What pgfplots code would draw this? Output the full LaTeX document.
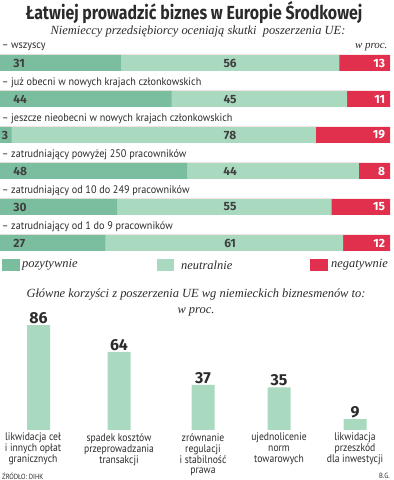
\documentclass[border=0pt]{standalone}
\usepackage{pgfplots}
\pgfplotsset{compat=1.18}
\usepackage{fontspec}
\setmainfont{PT Sans}
\newfontfamily\titlefont[FakeStretch=0.84]{Fira Sans}
\newfontfamily\condfont[FakeStretch=0.88]{PT Sans}
\newfontfamily\rowfont[FakeStretch=0.93]{PT Sans}
\newfontfamily\serifit{Liberation Serif}
\newfontfamily\numfont{Fira Sans}
\definecolor{cpos}{HTML}{7BBE9F}
\definecolor{cneu}{HTML}{A9DABF}
\definecolor{cneg}{HTML}{E0304E}
\definecolor{ctxt}{HTML}{2B2B2B}
\tikzset{
  rowlab/.style={anchor=west, font=\rowfont\fontsize{11}{12}\selectfont, text=ctxt, inner sep=0pt},
  val/.style={font=\numfont\bfseries\fontsize{12}{13}\selectfont, text=ctxt!90, inner sep=0pt},
  negval/.style={anchor=east, font=\numfont\bfseries\fontsize{12}{13}\selectfont, text=white, inner sep=0pt},
  leglab/.style={anchor=west, font=\serifit\itshape\fontsize{12.5}{14}\selectfont, text=ctxt, inner sep=0pt},
  catlab/.style={anchor=north, align=center, font=\condfont\fontsize{11}{11}\selectfont, text=ctxt, inner sep=0pt},
}
\begin{document}
\begin{tikzpicture}[x=1bp,y=1bp]
\useasboundingbox (0,0) rectangle (393,480);
% titles
\node[font=\titlefont\bfseries\fontsize{19}{21}\selectfont,text=ctxt] at (194,467) {Łatwiej prowadzić biznes w Europie Środkowej};
\node[font=\serifit\itshape\fontsize{12.5}{14}\selectfont,text=ctxt] at (198,448) {Niemieccy przedsiębiorcy oceniają skutki\ \ poszerzenia UE:};
\node[font=\serifit\itshape\fontsize{11}{13}\selectfont,text=ctxt,anchor=east] at (391,433) {w proc.};
% top bars (layered: negative = 100, neutral = positive + neutral, positive)
\begin{axis}[
  at={(0bp,417bp)}, anchor=origin,
  scale only axis, width=390bp, height=216bp,
  xbar, bar width=16bp, bar shift=0pt,
  xmin=0, xmax=100, ymin=-0.5, ymax=5.5,
  y dir=reverse,
  hide axis,
  clip=false,
]
\addplot[fill=cneg, draw=none] coordinates {(100,0) (100,1) (100,2) (100,3) (100,4) (100,5)};
\addplot[fill=cneu, draw=none] coordinates {(87,0) (89,1) (81,2) (92,3) (85,4) (88,5)};
\addplot[fill=cpos, draw=none] coordinates {(31,0) (44,1) (3,2) (48,3) (30,4) (27,5)};
\node[rowlab] at (axis cs:0.4,-0.45) {– wszyscy};
\node[rowlab] at (axis cs:0.4,0.55) {– już obecni w nowych krajach członkowskich};
\node[rowlab] at (axis cs:0.4,1.55) {– jeszcze nieobecni w nowych krajach członkowskich};
\node[rowlab] at (axis cs:0.4,2.55) {– zatrudniający powyżej 250 pracowników};
\node[rowlab] at (axis cs:0.4,3.55) {– zatrudniający od 10 do 249 pracowników};
\node[rowlab] at (axis cs:0.4,4.55) {– zatrudniający od 1 do 9 pracowników};
\node[val,anchor=west] at (axis cs:3.4,0) {31};
\node[val,anchor=west] at (axis cs:3.4,1) {44};
\node[val,anchor=west] at (axis cs:0.4,2) {3};
\node[val,anchor=west] at (axis cs:3.4,3) {48};
\node[val,anchor=west] at (axis cs:3.4,4) {30};
\node[val,anchor=west] at (axis cs:3.4,5) {27};
\node[val] at (axis cs:59,0) {56};
\node[val] at (axis cs:59,1) {45};
\node[val] at (axis cs:59,2) {78};
\node[val] at (axis cs:59,3) {44};
\node[val] at (axis cs:59,4) {55};
\node[val] at (axis cs:59,5) {61};
\node[negval] at (axis cs:98.8,0) {13};
\node[negval] at (axis cs:98.8,1) {11};
\node[negval] at (axis cs:98.8,2) {19};
\node[negval] at (axis cs:98.8,3) {8};
\node[negval] at (axis cs:98.8,4) {15};
\node[negval] at (axis cs:98.8,5) {12};
\end{axis}
% legend
\fill[cpos] (2,209) rectangle (20,221);
\fill[cneu] (157,209) rectangle (174,221);
\fill[cneg] (310,209) rectangle (328,221);
\node[leglab] at (22,215) {pozytywnie};
\node[leglab] at (181,215) {neutralnie};
\node[leglab] at (331,215) {negatywnie};
% bottom titles
\node[font=\serifit\itshape\fontsize{12.5}{14}\selectfont,text=ctxt] at (196,185) {Główne korzyści z poszerzenia UE wg niemieckich biznesmenów to:};
\node[font=\serifit\itshape\fontsize{12.5}{14}\selectfont,text=ctxt] at (196,168) {w proc.};
% bottom bars
\begin{axis}[
  at={(0bp,50bp)}, anchor=origin,
  scale only axis, width=393bp, height=122bp,
  ybar, bar width=23bp,
  xmin=0, xmax=393, ymin=0, ymax=100,
  hide axis,
  clip=false,
  nodes near coords,
  /pgf/number format/assume math mode=true,
  every node near coord/.append style={font=\numfont\bfseries\fontsize{16}{18}\selectfont, text=ctxt, inner sep=1pt, anchor=south},
]
\addplot[fill=cneu, draw=none] coordinates {(38.5,86) (119,64) (203,37) (279,35) (355,9)};
\end{axis}
\node[catlab] at (33,47) {likwidacja ceł\\i innych opłat\\granicznych};
\node[catlab] at (119,47) {spadek kosztów\\przeprowadzania\\transakcji};
\node[catlab] at (203,47) {zrównanie\\regulacji\\i stabilność\\prawa};
\node[catlab] at (279,47) {ujednolicenie\\norm\\towarowych};
\node[catlab] at (355,47) {likwidacja\\przeszkód\\dla inwestycji};
\node[anchor=west, font=\condfont\fontsize{7.5}{8}\selectfont, text=ctxt, inner sep=0pt] at (2,4) {ŹRÓDŁO: DIHK};
\node[anchor=east, font=\condfont\fontsize{7.5}{8}\selectfont, text=ctxt, inner sep=0pt] at (390,4) {B.G.};
\end{tikzpicture}
\end{document}
